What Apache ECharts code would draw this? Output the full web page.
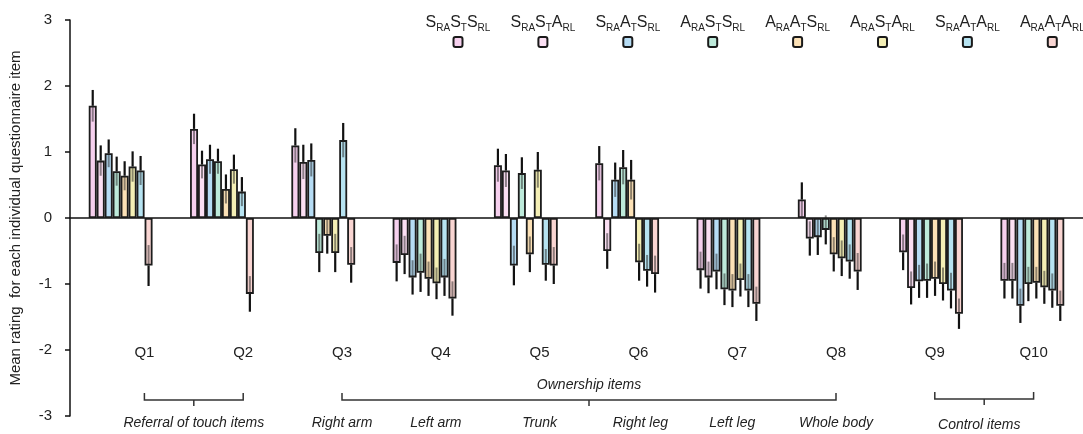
<!DOCTYPE html>
<html><head><meta charset="utf-8">
<script src="https://cdn.jsdelivr.net/npm/echarts@6/dist/echarts.min.js"></script>
<style>html,body{margin:0;padding:0;background:#fff}#c{width:1083px;height:434px}</style>
</head><body><div id="c"></div>
<script>
// ---------- data ----------
const categories = ['Q1','Q2','Q3','Q4','Q5','Q6','Q7','Q8','Q9','Q10'];
// condition codes: letters for RA, T, RL
const conditions = [['S','S','S'],['S','S','A'],['S','A','S'],['A','S','S'],['A','A','S'],['A','S','A'],['S','A','A'],['A','A','A']];
const subs = ['RA','T','RL'];
const yTicks = [-3,-2,-1,0,1,2,3];

const mean_SSS = [1.70, 1.35, 1.10, -0.68, 0.80, 0.83, -0.79, 0.28, -0.52, -0.95];
const se_SSS   = [0.24, 0.23, 0.26, 0.28, 0.25, 0.26, 0.28, 0.26, 0.27, 0.27];
const mean_SSA = [0.87, 0.81, 0.85, -0.56, 0.72, -0.50, -0.90, -0.31, -1.06, -0.95];
const se_SSA   = [0.23, 0.21, 0.26, 0.29, 0.25, 0.27, 0.24, 0.26, 0.25, 0.27];
const mean_SAS = [0.98, 0.89, 0.88, -0.90, -0.72, 0.58, -0.81, -0.29, -0.96, -1.33];
const se_SAS   = [0.21, 0.22, 0.25, 0.26, 0.30, 0.26, 0.27, 0.27, 0.25, 0.26];
const mean_ASS = [0.71, 0.86, -0.53, -0.83, 0.68, 0.77, -1.08, -0.18, -0.95, -1.00];
const se_ASS   = [0.22, 0.19, 0.29, 0.29, 0.24, 0.26, 0.24, 0.22, 0.26, 0.26];
const mean_AAS = [0.64, 0.44, -0.27, -0.92, -0.55, 0.58, -1.10, -0.55, -0.92, -0.98];
const se_AAS   = [0.22, 0.22, 0.27, 0.26, 0.27, 0.30, 0.25, 0.26, 0.26, 0.24];
const mean_ASA = [0.78, 0.74, -0.53, -0.99, 0.73, -0.67, -0.94, -0.61, -1.00, -1.05];
const se_ASA   = [0.23, 0.22, 0.29, 0.24, 0.27, 0.28, 0.25, 0.27, 0.25, 0.25];
const mean_SAA = [0.72, 0.40, 1.18, -0.90, -0.71, -0.80, -1.10, -0.66, -1.10, -1.10];
const se_SAA   = [0.22, 0.22, 0.26, 0.28, 0.24, 0.24, 0.25, 0.26, 0.27, 0.26];
const mean_AAA = [-0.72, -1.15, -0.71, -1.22, -0.72, -0.85, -1.30, -0.81, -1.45, -1.33];
const se_AAA   = [0.31, 0.27, 0.27, 0.26, 0.28, 0.28, 0.26, 0.28, 0.23, 0.23];

const groupLabels = ['Referral of touch items', 'Ownership items', 'Control items'];
const partLabels = ['Right arm', 'Left arm', 'Trunk', 'Right leg', 'Left leg', 'Whole body'];

// ---------- styles / layout ----------
const means = [mean_SSS, mean_SSA, mean_SAS, mean_ASS, mean_AAS, mean_ASA, mean_SAA, mean_AAA];
const ses = [se_SSS, se_SSA, se_SAS, se_ASS, se_AAS, se_ASA, se_SAA, se_AAA];
const colors = ['#f6d0ee', '#fbdff3', '#b6dcf4', '#bdeada', '#fce1b6', '#f4efb5', '#b6e3f1', '#f9d5d2'];
const FONT = 'Arial, "Liberation Sans", sans-serif';
const CAT_GAP = 0.37;
// annotation layout (second grid: x = question index, y = px below its top)
const bracketLayout = [[0, 1, 62], [2, 7, 62], [8, 9, 61]];
const groupLabelLayout = [[0.5, 85], [4.5, 47], [8.45, 87]];
const partLabelPos = [2, 2.95, 4, 5.02, 5.95, 7];
const partLabelY = 85;

const names = conditions.map(c => c.map((l, k) => l + subs[k]).join(' '));

const rich = {
  t: {fontSize: 16, fontFamily: FONT, color: '#222', align: 'center', lineHeight: 20, verticalAlign: 'bottom'},
  s: {fontSize: 10, fontFamily: FONT, color: '#222', align: 'center', lineHeight: 20, verticalAlign: 'bottom', padding: [0, 0, -2, 0]}
};
colors.forEach((col, i) => {
  rich['b' + i] = {width: 7, height: 8, backgroundColor: col, borderColor: '#1a1a1a', borderWidth: 2, borderRadius: 1, align: 'center', lineHeight: 22};
});

const series = [];
names.forEach((n, i) => {
  series.push({
    name: n, type: 'bar', xAxisIndex: 0, yAxisIndex: 0,
    data: means[i], barGap: '0%', barCategoryGap: (CAT_GAP * 100) + '%',
    itemStyle: {color: colors[i], borderColor: '#1c1c1c', borderWidth: 1.8},
    emphasis: {disabled: true}, z: 2
  });
});

const errData = [];
means.forEach((arr, s) => arr.forEach((m, c) => errData.push([c, s, m, ses[s][c]])));

series.push({
  type: 'custom', xAxisIndex: 0, yAxisIndex: 0, z: 5, silent: true,
  data: errData, encode: {x: 0, y: 2},
  renderItem: function (params, api) {
    const c = api.value(0), s = api.value(1), m = api.value(2), e = api.value(3);
    const band = api.size([1, 0])[0];
    const pitch = band * (1 - CAT_GAP) / 8;
    const x = api.coord([c, 0])[0] + (s - 3.5) * pitch;
    const sg = m >= 0 ? 1 : -1;
    const ym = api.coord([c, m])[1];
    const yo = api.coord([c, m + sg * e])[1];
    const yi = api.coord([c, m - sg * e])[1];
    return {type: 'group', children: [
      {type: 'line', shape: {x1: x, y1: ym, x2: x, y2: yo}, style: {stroke: '#111', lineWidth: 2.2}},
      {type: 'line', shape: {x1: x, y1: ym, x2: x, y2: yi}, style: {stroke: 'rgba(30,30,30,0.5)', lineWidth: 2}}
    ]};
  }
});

// brackets
series.push({
  type: 'custom', xAxisIndex: 2, yAxisIndex: 1, silent: true,
  data: bracketLayout,
  renderItem: function (params, api) {
    const a = api.coord([api.value(0), api.value(2)]);
    const b = api.coord([api.value(1), api.value(2)]);
    const mid = (a[0] + b[0]) / 2, y = a[1];
    return {type: 'group', children: [
      {type: 'polyline', shape: {points: [[a[0], y - 7], [a[0], y], [b[0], y], [b[0], y - 7]]}, style: {stroke: '#333', lineWidth: 1.5, fill: null}},
      {type: 'line', shape: {x1: mid, y1: y, x2: mid, y2: y + 6}, style: {stroke: '#333', lineWidth: 1.5}}
    ]};
  }
});
// group labels
series.push({
  type: 'custom', xAxisIndex: 2, yAxisIndex: 1, silent: true,
  data: groupLabelLayout.map((p, i) => [p[0], p[1], i]),
  renderItem: function (params, api) {
    const p = api.coord([api.value(0), api.value(1)]);
    return {type: 'text', style: {text: groupLabels[api.value(2)], x: p[0], y: p[1], font: 'italic 14px ' + FONT, fill: '#222', align: 'center', verticalAlign: 'middle'}};
  }
});
// part labels
series.push({
  type: 'custom', xAxisIndex: 2, yAxisIndex: 1, silent: true,
  data: partLabelPos.map((x, i) => [x, partLabelY, i]),
  renderItem: function (params, api) {
    const p = api.coord([api.value(0), api.value(1)]);
    return {type: 'text', style: {text: partLabels[api.value(2)], x: p[0], y: p[1], font: 'italic 14px ' + FONT, fill: '#222', align: 'center', verticalAlign: 'middle'}};
  }
});

const option = {
  animation: false,
  backgroundColor: '#fff',
  legend: {
    data: names, top: 10, left: 407, width: 760, itemGap: 6.5, itemWidth: 0, itemHeight: 0,
    selectedMode: false,
    formatter: function (name) {
      const i = names.indexOf(name);
      const parts = conditions[i].map((l, k) => '{t|' + l + '}{s|' + subs[k] + '}').join('');
      return parts + '\n{b' + i + '|}';
    },
    textStyle: {width: 80, color: '#222', rich: rich}
  },
  grid: [
    {left: 68, top: 20, bottom: 18, right: -18},
    {left: 95, right: -12, top: 338, bottom: 0}
  ],
  xAxis: [
    {type: 'category', gridIndex: 0, data: categories, axisLine: {onZero: true, lineStyle: {color: '#111', width: 1.5}},
     axisTick: {show: false}, axisLabel: {show: false}, splitLine: {show: false}},
    {type: 'category', gridIndex: 1, data: categories, position: 'top', axisLine: {show: false}, axisTick: {show: false},
     axisLabel: {inside: true, margin: 7, fontSize: 15, fontFamily: FONT, color: '#222'}},
    {type: 'value', gridIndex: 1, min: -0.5, max: 9.5, show: false, position: 'bottom'}
  ],
  yAxis: [
    {type: 'value', gridIndex: 0, min: yTicks[0], max: yTicks[yTicks.length - 1], interval: 1,
     name: 'Mean rating  for each individual questionnaire item', nameLocation: 'middle', nameGap: 47,
     nameTextStyle: {fontSize: 15, fontFamily: FONT, color: '#222'},
     axisLine: {show: true, lineStyle: {color: '#111', width: 1.5}},
     axisTick: {show: true, length: 5, lineStyle: {color: '#111', width: 1.5}},
     axisLabel: {fontSize: 15, fontFamily: FONT, color: '#222', margin: 18},
     splitLine: {show: false}},
    {type: 'value', gridIndex: 1, min: 0, max: 96, inverse: true, show: false}
  ],
  series: series
};
const chart = echarts.init(document.getElementById('c'), null, {renderer: 'canvas'});
chart.setOption(option);
</script></body></html>
